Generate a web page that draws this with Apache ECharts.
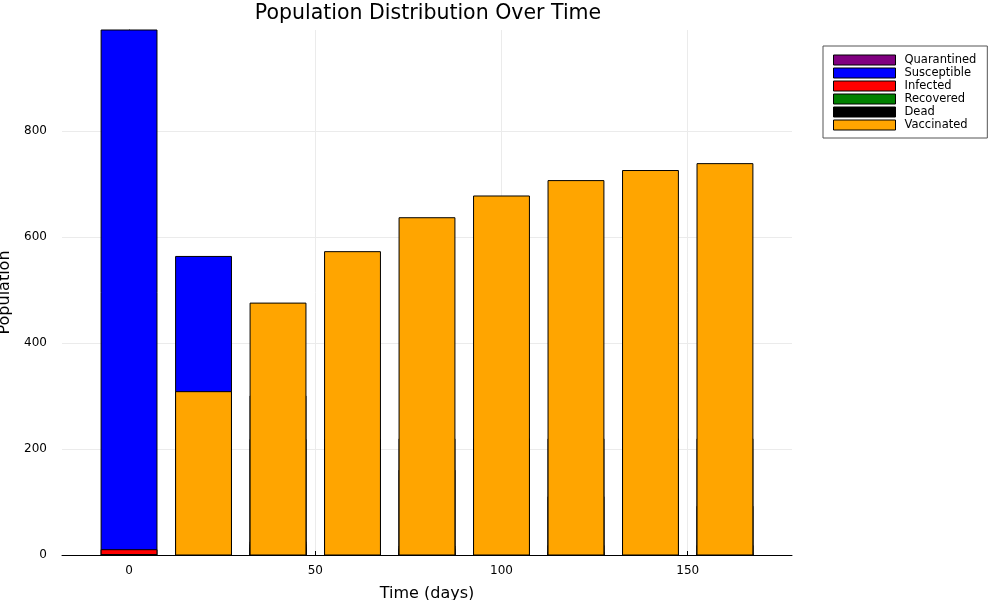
<!DOCTYPE html>
<html>
<head>
<meta charset="utf-8">
<script src="https://cdn.jsdelivr.net/npm/echarts@6/dist/echarts.min.js"></script>
<style>
  html, body { margin: 0; padding: 0; background: #fff; }
  #chart { width: 1000px; height: 600px; }
</style>
</head>
<body>
<div id="chart"></div>
<script>
// time points (days) and population per compartment
var days = [0, 20, 40, 60, 80, 100, 120, 140, 160];
var quarantined = [0, 30, 25, 18, 12, 9, 6, 4, 3];
var susceptible = [990, 563, 300, 210, 160, 130, 110, 100, 92];
var infected = [10, 65, 20, 8, 4, 2, 1, 1, 0];
var recovered = [0, 220, 218, 218, 219, 219, 219, 219, 219];
var dead = [0, 8, 14, 16, 17, 18, 18, 18, 18];
var vaccinated = [0, 308, 475, 572, 636, 677, 706, 725, 738];
var xTicks = [0, 50, 100, 150];
var yTicks = [0, 200, 400, 600, 800];

var barHalf = 7.5; // half bar width in days

var seriesDefs = [
    { name: 'Quarantined', color: '#800080', data: quarantined },
    { name: 'Susceptible', color: '#0000ff', data: susceptible },
    { name: 'Infected', color: '#ff0000', data: infected },
    { name: 'Recovered', color: '#008000', data: recovered },
    { name: 'Dead', color: '#000000', data: dead },
    { name: 'Vaccinated', color: '#ffa500', data: vaccinated }
];

function renderBar(params, api) {
    var x = api.value(0);
    var y = api.value(1);
    var p0 = api.coord([x - barHalf, y]);
    var p1 = api.coord([x + barHalf, 0]);
    return {
        type: 'rect',
        shape: { x: p0[0], y: p0[1], width: p1[0] - p0[0], height: p1[1] - p0[1] },
        style: { fill: api.visual('color'), stroke: '#000', lineWidth: 1 }
    };
}

var chart = echarts.init(document.getElementById('chart'));

var option = {
    animation: false,
    textStyle: { fontFamily: 'DejaVu Sans' },
    title: {
        text: 'Population Distribution Over Time',
        left: 423,
        textAlign: 'center',
        top: -2,
        textStyle: { fontSize: 20.5, fontWeight: 'normal', color: '#000', fontFamily: 'DejaVu Sans' }
    },
    legend: {
        orient: 'vertical',
        left: 823,
        top: 46,
        padding: [8, 11, 7, 10],
        itemWidth: 62,
        itemHeight: 10,
        itemGap: 1,
        icon: 'rect',
        borderColor: '#555',
        borderWidth: 1,
        borderRadius: 0,
        itemStyle: { borderColor: '#000', borderWidth: 1 },
        textStyle: { fontSize: 11.5, lineHeight: 10, color: '#000', fontFamily: 'DejaVu Sans', padding: [0, 0, 0, 4] },
        data: seriesDefs.map(function (s) { return s.name; })
    },
    grid: { left: 62, right: 208, top: 30, bottom: 45, outerBoundsMode: 'none', containLabel: false },
    xAxis: {
        type: 'value',
        min: -18,
        max: 178,
        name: 'Time (days)',
        nameLocation: 'middle',
        nameGap: 31,
        nameTextStyle: { fontSize: 16, color: '#000' },
        axisLine: { show: true, onZero: false, lineStyle: { color: '#000' } },
        axisTick: { show: true, inside: true, length: 4, lineStyle: { color: '#000' }, customValues: xTicks },
        axisLabel: { fontSize: 12, color: '#000', margin: 10, customValues: xTicks },
        splitLine: { show: true, lineStyle: { color: '#ebebeb', width: 1 } }
    },
    yAxis: {
        type: 'value',
        min: 0,
        max: 990,
        name: 'Population',
        nameLocation: 'middle',
        nameGap: 49,
        nameTextStyle: { fontSize: 16, color: '#000' },
        axisLine: { show: true, lineStyle: { color: '#000' } },
        axisTick: { show: true, inside: true, length: 4, lineStyle: { color: '#000' }, customValues: yTicks },
        axisLabel: { fontSize: 12, color: '#000', margin: 15, customValues: yTicks },
        splitLine: { show: true, lineStyle: { color: '#ebebeb', width: 1 } }
    },
    series: seriesDefs.map(function (s) {
        return {
            name: s.name,
            type: 'custom',
            renderItem: renderBar,
            itemStyle: { color: s.color, borderColor: '#000', borderWidth: 1 },
            encode: { x: 0, y: 1 },
            data: days.map(function (d, i) { return [d, s.data[i]]; })
        };
    })
};

chart.setOption(option);
</script>
</body>
</html>
